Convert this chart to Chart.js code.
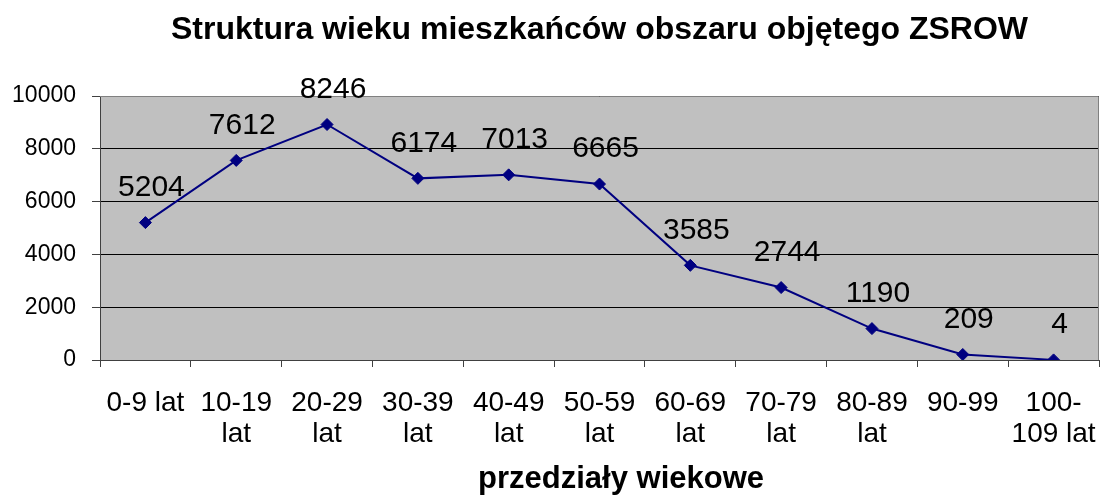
<!DOCTYPE html>
<html>
<head>
<meta charset="utf-8">
<script src="https://cdn.jsdelivr.net/npm/chart.js@4.4.1/dist/chart.umd.min.js"></script>
<style>
  html, body { margin: 0; padding: 0; background: #fff; }
  #box { width: 1106px; height: 495px; }
</style>
</head>
<body>
<div id="box"><canvas id="wykres"></canvas></div>
<script>
// przedziały wiekowe (kategorie osi X)
const kategorie = [
    ['0-9 lat'], ['10-19', 'lat'], ['20-29', 'lat'], ['30-39', 'lat'], ['40-49', 'lat'],
    ['50-59', 'lat'], ['60-69', 'lat'], ['70-79', 'lat'], ['80-89', 'lat'], ['90-99'], ['100-', '109 lat']
];
const mieszkancy = [5204, 7560, 8920, 6880, 7013, 6665, 3585, 2744, 1190, 209, 4];
// etykiety danych wypisane nad punktami
const etykiety = ['5204', '7612', '8246', '6174', '7013', '6665', '3585', '2744', '1190', '209', '4'];
// podziałka osi Y
const osY = [0, 2000, 4000, 6000, 8000, 10000];

const FONT = '"Liberation Sans", Arial, sans-serif';

// szare tło obszaru wykresu + ramka
const tloObszaru = {
    id: 'tloObszaru',
    beforeDraw(chart) {
        const a = chart.chartArea, ctx = chart.ctx;
        ctx.save();
        ctx.fillStyle = '#c0c0c0';
        ctx.fillRect(a.left, a.top, a.right - a.left, a.bottom - a.top);
        ctx.restore();
    },
    beforeDatasetsDraw(chart) {
        const a = chart.chartArea, ctx = chart.ctx;
        ctx.save();
        ctx.strokeStyle = '#808080';
        ctx.lineWidth = 1;
        ctx.beginPath();
        ctx.moveTo(a.left, a.top + 0.5);
        ctx.lineTo(a.right - 0.5, a.top + 0.5);
        ctx.lineTo(a.right - 0.5, a.bottom);
        ctx.stroke();
        ctx.restore();
    }
};

// etykiety z liczbą mieszkańców nad punktami
const etykietyDanych = {
    id: 'etykietyDanych',
    afterDatasetsDraw(chart) {
        const ctx = chart.ctx;
        const punkty = chart.getDatasetMeta(0).data;
        ctx.save();
        ctx.font = '30px ' + FONT;
        ctx.fillStyle = '#000';
        ctx.textAlign = 'center';
        ctx.textBaseline = 'middle';
        punkty.forEach((p, i) => {
            ctx.fillText(etykiety[i], p.x + 6, p.y - 35);
        });
        ctx.restore();
    }
};

new Chart(document.getElementById('wykres'), {
    type: 'line',
    data: {
        labels: kategorie,
        datasets: [{
            data: mieszkancy,
            borderColor: '#000080',
            backgroundColor: '#000080',
            borderWidth: 2,
            pointStyle: 'rectRot',
            pointRadius: 6,
            pointBorderWidth: 1,
            tension: 0
        }]
    },
    options: {
        responsive: true,
        maintainAspectRatio: false,
        animation: false,
        devicePixelRatio: 1,
        layout: { padding: { top: 0, left: 0, right: 7, bottom: 0 } },
        plugins: {
            legend: { display: false },
            tooltip: { enabled: false },
            title: {
                display: true,
                fullSize: false,
                text: 'Struktura wieku mieszkańców obszaru objętego ZSROW',
                color: '#000',
                font: { family: FONT, size: 32, weight: 'bold', lineHeight: 1.2 },
                padding: { top: 11, bottom: 46.6 }
            }
        },
        scales: {
            x: {
                offset: true,
                grid: { display: true, drawOnChartArea: false, offset: true, drawTicks: true, tickLength: 7, color: '#404040' },
                border: { display: true, color: '#404040' },
                ticks: {
                    color: '#000',
                    maxRotation: 0,
                    autoSkip: false,
                    padding: 21,
                    font: { family: FONT, size: 28, lineHeight: 1.1 }
                },
                title: {
                    display: true,
                    text: '     przedziały wiekowe',
                    color: '#000',
                    font: { family: FONT, size: 31, weight: 'bold', lineHeight: 1 },
                    padding: 0
                },
                afterFit(axis) {
                    axis.height = 135;
                    // etykiety mogą wystawać poza obszar, jak w oryginale
                    axis.paddingLeft = 0;
                    axis.paddingRight = 0;
                }
            },
            y: {
                min: 0,
                max: 10000,
                afterBuildTicks(axis) { axis.ticks = osY.map(v => ({ value: v })); },
                grid: { color: '#000', tickLength: 8, tickColor: '#404040' },
                border: { display: true, color: '#404040' },
                ticks: {
                    color: '#000',
                    padding: 16,
                    font: { family: FONT, size: 23 },
                    callback: v => String(v)
                },
                afterFit(axis) { axis.width = 100; }
            }
        }
    },
    plugins: [tloObszaru, etykietyDanych]
});
</script>
</body>
</html>
